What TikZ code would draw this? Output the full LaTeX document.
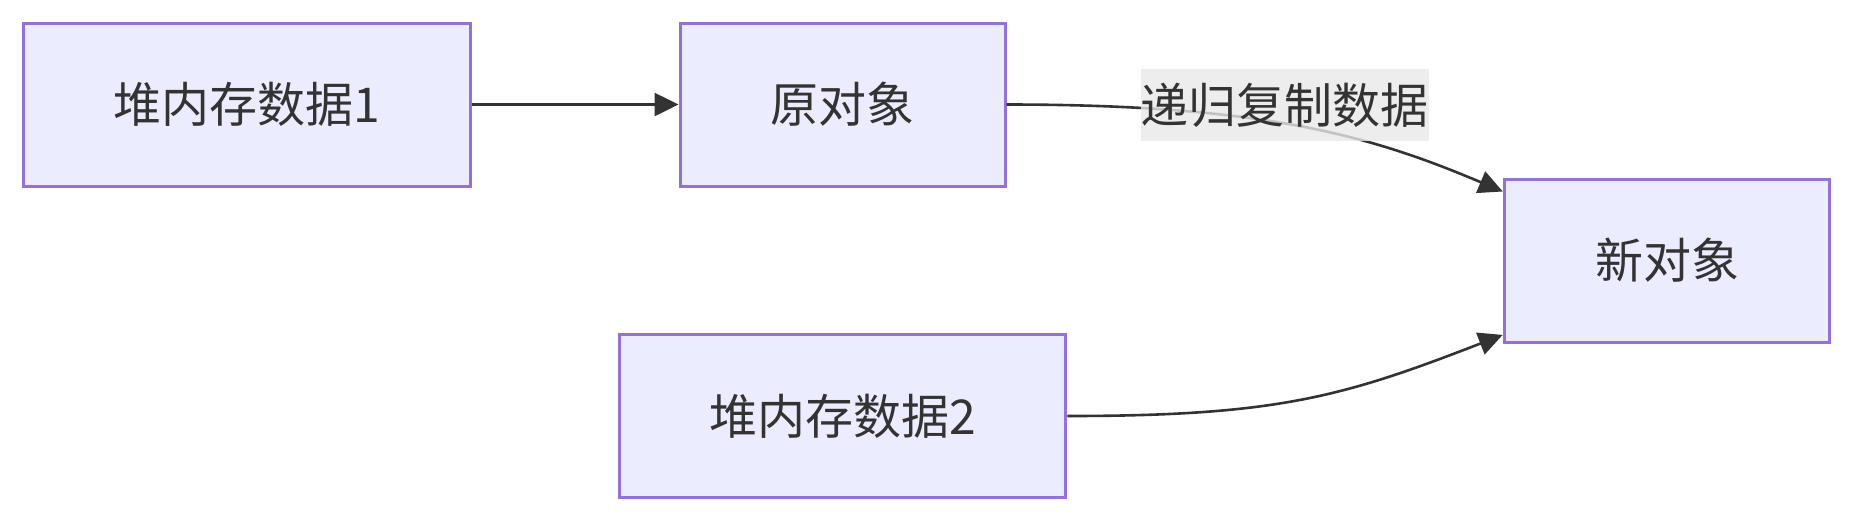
\documentclass[tikz,border=0pt]{standalone}
\usepackage{fontspec}
\setmainfont{Noto Sans CJK SC}
\usepackage{xcolor}
\usepackage{tikz}
\usetikzlibrary{arrows.meta}
\definecolor{boxfill}{HTML}{ECECFF}
\definecolor{boxline}{HTML}{9370DB}
\definecolor{linkline}{HTML}{333333}
\definecolor{labelfill}{HTML}{E8E8E8}
\tikzset{
	box/.style={rectangle,draw=boxline,fill=boxfill,line width=1.5pt,
		minimum height=81.5pt,text=linkline,
		font=\fontsize{24pt}{28pt}\selectfont},
	link/.style={draw=linkline,line width=1.3pt,
		-{Triangle[length=12pt,width=11.5pt]}}
}

\begin{document}
\begin{tikzpicture}[x=0.5pt,y=-0.5pt]
	\useasboundingbox (0,0) rectangle (1853,521);
	\node[box,minimum width=223.25pt] (1) at(247,104.5){堆内存数据1};
	\node[box,minimum width=162.5pt] (2) at(842.5,104.5){原对象};
	\node[box,minimum width=162.8pt] (3) at(1667,260.5){新对象};
	\node[box,minimum width=223.25pt] (4) at(842.5,416){堆内存数据2};
	\draw[link] (1) --(2);
	\draw[link] (2.east) .. controls +(260,0) and +(-130,-55) .. ([yshift=-7pt]3.north west);
	\draw[link] (4.east) .. controls +(210,0) and +(-160,62) .. ([yshift=4.3pt]3.south west);
	\node[fill=labelfill,fill opacity=0.8,text opacity=1,text=linkline,
		inner xsep=0pt,minimum height=36pt,
		font=\fontsize{24pt}{28pt}\selectfont] (l) at(1284.5,105){递归复制数据};
\end{tikzpicture}
\end{document}
